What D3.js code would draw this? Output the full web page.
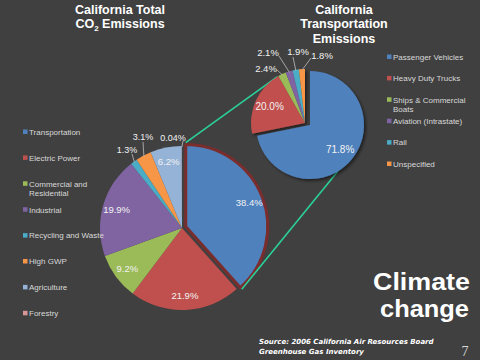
<!DOCTYPE html>
<html><head><meta charset="utf-8">
<script src="https://cdn.jsdelivr.net/npm/d3@7"></script>
<style>html,body{margin:0;padding:0;background:#404040;}svg{display:block;}</style>
</head><body>
<svg id="c" width="480" height="360"></svg>
<script>
// ---- data ----
const totalCategories = ["Transportation","Electric Power","Commercial and Residential","Industrial","Recycling and Waste","High GWP","Agriculture","Forestry"];
const totalValues = [38.4, 21.9, 9.2, 19.9, 1.3, 3.1, 6.2, 0.04];
const totalLabels = ["38.4%","21.9%","9.2%","19.9%","1.3%","3.1%","6.2%","0.04%"];
const transCategories = ["Passenger Vehicles","Heavy Duty Trucks","Ships & Commercial Boats","Aviation (Intrastate)","Rail","Unspecified"];
const transValues = [71.8, 20.0, 2.4, 2.1, 1.9, 1.8];
const transLabels = ["71.8%","20.0%","2.4%","2.1%","1.9%","1.8%"];

const totalColors = ["#4F81BD","#C0504D","#9BBB59","#8064A2","#4BACC6","#F79646","#95B3D7","#D99694"];
const transColors = ["#4F81BD","#C0504D","#9BBB59","#8064A2","#4BACC6","#F79646"];

const svg = d3.select("#c");
const defs = svg.append("defs");
const f = defs.append("filter").attr("id","sh").attr("x","-20%").attr("y","-20%").attr("width","150%").attr("height","150%");
f.append("feDropShadow").attr("dx",2).attr("dy",2).attr("stdDeviation",1.5).attr("flood-color","#000").attr("flood-opacity",0.5);

const pie = d3.pie().sort(null).value(d=>d);

// ---- titles ----
const titleFont = "Liberation Sans, Arial, sans-serif";
function title(x, y, txt){
  return svg.append("text").attr("x",x).attr("y",y).attr("text-anchor","middle")
    .attr("fill","#fff").attr("font-family",titleFont).attr("font-weight","bold").attr("font-size",12.5).text(txt);
}
title(120,14,"California Total");
const t2 = svg.append("text").attr("x",120).attr("y",28).attr("text-anchor","middle")
  .attr("fill","#fff").attr("font-family",titleFont).attr("font-weight","bold").attr("font-size",12.5);
t2.append("tspan").text("CO");
t2.append("tspan").attr("font-size",8).attr("dy",3).text("2");
t2.append("tspan").attr("dy",-3).text(" Emissions");
title(344,14,"California");
title(344,28,"Transportation");
title(344,43,"Emissions");

// ---- geometry ----
const L = {cx:182, cy:228, r:82, explode:4};
const R = {cx:310, cy:125, r:54};
const totalArcs = pie(totalValues);
const transArcs = pie(transValues);
const tA = totalArcs[0];
const tMid = (tA.startAngle+tA.endAngle)/2;
const tdx = Math.sin(tMid)*L.explode, tdy = -Math.cos(tMid)*L.explode;
function pt(cx,cy,r,a){return [cx+Math.sin(a)*r, cy-Math.cos(a)*r];}
const lineColor = "#2BD19A";
const labelFont = "Liberation Sans, Arial, sans-serif";
const lblColor = "#F2F2F2";

// ---- left pie ----
const arcL = d3.arc().innerRadius(0).outerRadius(L.r);
const gL = svg.append("g").attr("transform",`translate(${L.cx},${L.cy})`);
gL.selectAll("path.s").data(totalArcs).join("path").attr("class","s")
  .attr("d",arcL)
  .attr("fill",(d,i)=>totalColors[i])
  .attr("transform",(d,i)=> i===0 ? `translate(${tdx},${tdy})` : null)
  .attr("stroke",(d,i)=> i===0 ? "#7A2D2D" : "none")
  .attr("stroke-width",(d,i)=> i===0 ? 3 : 0)
  .attr("stroke-linejoin","round");

// connectors
const pTop = pt(L.cx+tdx, L.cy+tdy, L.r+2, tA.startAngle);
const pBot = pt(L.cx+tdx, L.cy+tdy, L.r+2, tA.endAngle);
const rEnd1 = pt(R.cx-5, R.cy-2, R.r, transArcs[2].startAngle - 0.02);
const rEnd2 = pt(R.cx, R.cy, R.r, 2.6);
svg.append("line").attr("x1",pTop[0]).attr("y1",pTop[1]).attr("x2",rEnd1[0]).attr("y2",rEnd1[1])
  .attr("stroke",lineColor).attr("stroke-width",1.6);
svg.append("line").attr("x1",pBot[0]).attr("y1",pBot[1]).attr("x2",rEnd2[0]).attr("y2",rEnd2[1])
  .attr("stroke",lineColor).attr("stroke-width",1.6);

// left labels
const labelArcL = d3.arc().innerRadius(68).outerRadius(68);
const leftOutside = {
  4:{tx:-55, ty:-78, lx:-50, ly:-74},
  5:{tx:-39, ty:-91, lx:-39, ly:-86},
  7:{tx:-9,  ty:-90, lx:1,   ly:-87}
};
totalArcs.forEach((d,i)=>{
  const mid=(d.startAngle+d.endAngle)/2;
  if(leftOutside[i]){
    const o = leftOutside[i];
    const p0 = pt(L.cx,L.cy,L.r-1,mid);
    svg.append("line").attr("x1",L.cx+o.lx).attr("y1",L.cy+o.ly).attr("x2",p0[0]).attr("y2",p0[1])
      .attr("stroke","#BFBFBF").attr("stroke-width",0.8);
    svg.append("text").attr("x",L.cx+o.tx).attr("y",L.cy+o.ty).attr("text-anchor","middle").attr("dy","0.35em")
      .attr("fill",lblColor).attr("font-family",labelFont).attr("font-size",9).text(totalLabels[i]);
  } else {
    const c = labelArcL.centroid(d);
    const ox = i===0 ? tdx : 0, oy = i===0 ? tdy : 0;
    svg.append("text").attr("x",L.cx+c[0]+ox).attr("y",L.cy+c[1]+oy).attr("text-anchor","middle").attr("dy","0.35em")
      .attr("fill",lblColor).attr("font-family",labelFont).attr("font-size",9.5).text(totalLabels[i]);
  }
});

// ---- right pie ----
const arcR = d3.arc().innerRadius(0).outerRadius(R.r);
const gR = svg.append("g").attr("transform",`translate(${R.cx},${R.cy})`).attr("filter","url(#sh)");
gR.selectAll("path").data(transArcs).join("path")
  .attr("d",arcR)
  .attr("fill",(d,i)=>transColors[i])
  .attr("transform",(d,i)=> i===0 ? null : "translate(-5,-2)");

const labelArcR = d3.arc().innerRadius(R.r*0.72).outerRadius(R.r*0.72);
const rightOutside = {
  2:{tx:-44, ty:-56, lx:-33, ly:-55},
  3:{tx:-42, ty:-72, lx:-31, ly:-69},
  4:{tx:-12, ty:-73, lx:-17, ly:-68},
  5:{tx:12,  ty:-69, lx:1,   ly:-67}
};
transArcs.forEach((d,i)=>{
  const mid=(d.startAngle+d.endAngle)/2;
  const cx = i===0 ? R.cx : R.cx-5, cy = i===0 ? R.cy : R.cy-2;
  if(rightOutside[i]){
    const o = rightOutside[i];
    const p0 = pt(cx,cy,R.r-1,mid);
    svg.append("line").attr("x1",R.cx+o.lx).attr("y1",R.cy+o.ly).attr("x2",p0[0]).attr("y2",p0[1])
      .attr("stroke","#BFBFBF").attr("stroke-width",0.8);
    svg.append("text").attr("x",R.cx+o.tx).attr("y",R.cy+o.ty).attr("text-anchor","middle").attr("dy","0.35em")
      .attr("fill",lblColor).attr("font-family",labelFont).attr("font-size",9.5).text(transLabels[i]);
  } else {
    const c = labelArcR.centroid(d);
    svg.append("text").attr("x",cx+c[0]).attr("y",cy+c[1]).attr("text-anchor","middle").attr("dy","0.35em")
      .attr("fill",lblColor).attr("font-family",labelFont).attr("font-size",10).text(transLabels[i]);
  }
});

// ---- legends ----
const legColor = "#D9D9D9";
function legend(x, y0, step, cats, colors, wrapAt){
  const g = svg.append("g");
  cats.forEach((c,i)=>{
    const y = y0 + step*i;
    g.append("rect").attr("x",x).attr("y",y-2.5).attr("width",4.5).attr("height",4.5).attr("fill",colors[i]);
    const t = g.append("text").attr("x",x+6).attr("y",y).attr("dy","0.35em")
      .attr("fill",legColor).attr("font-family",labelFont).attr("font-size",8);
    const parts = wrapAt[c];
    if(parts){
      parts.forEach((p,j)=> t.append("tspan").attr("x",x+6).attr("dy", j===0 ? "0.35em" : "1.15em").text(p));
    } else t.text(c);
  });
}
legend(23, 132, 25.9, totalCategories, totalColors, {"Commercial and Residential":["Commercial and","Residential"]});
legend(387, 57, 21.4, transCategories, transColors, {"Ships & Commercial Boats":["Ships & Commercial","Boats"]});

// ---- footer texts ----
svg.append("text").attr("x",373).attr("y",290).attr("fill","#fff")
  .attr("font-family","Liberation Sans, Arial, sans-serif").attr("font-weight","bold").attr("font-size",24)
  .attr("textLength",97).attr("lengthAdjust","spacingAndGlyphs").text("Climate");
svg.append("text").attr("x",380).attr("y",317).attr("fill","#fff")
  .attr("font-family","Liberation Sans, Arial, sans-serif").attr("font-weight","bold").attr("font-size",24)
  .attr("textLength",89).attr("lengthAdjust","spacingAndGlyphs").text("change");
svg.append("text").attr("x",259).attr("y",344).attr("fill","#fff").attr("font-family","DejaVu Sans, sans-serif")
  .attr("font-weight","bold").attr("font-style","italic").attr("font-size",7).text("Source: 2006 California Air Resources Board");
svg.append("text").attr("x",259).attr("y",354).attr("fill","#fff").attr("font-family","DejaVu Sans, sans-serif")
  .attr("font-weight","bold").attr("font-style","italic").attr("font-size",7).text("Greenhouse Gas Inventory");
svg.append("text").attr("x",465).attr("y",356).attr("text-anchor","middle").attr("fill","#D9D9D9")
  .attr("font-family","Liberation Serif, serif").attr("font-size",14).text("7");
</script>
</body></html>
